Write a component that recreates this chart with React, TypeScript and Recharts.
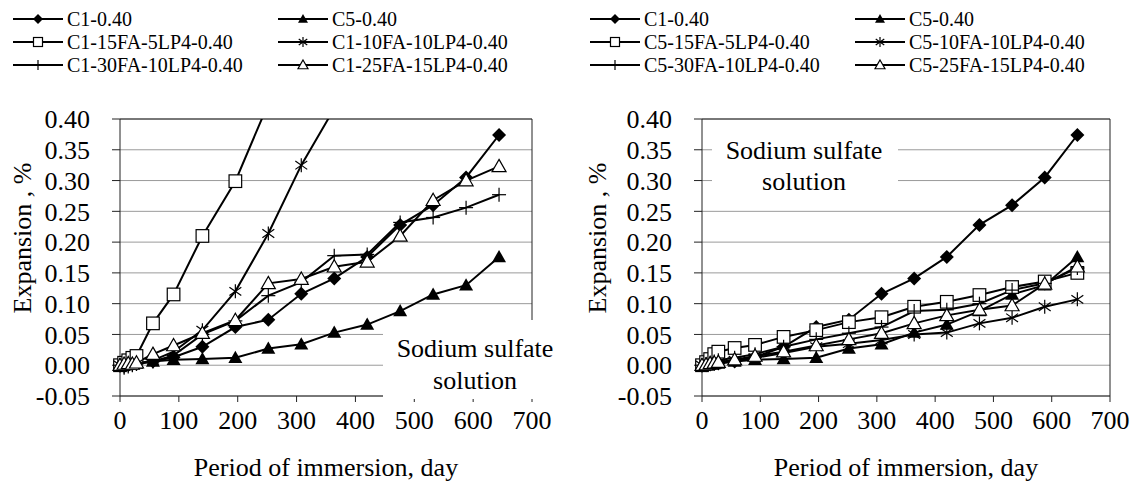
import { useLayoutEffect, useRef } from "react";
import { CartesianGrid, Line, LineChart, ReferenceLine, XAxis, YAxis } from "recharts";

// immersion age, days
const days = [0, 7, 14, 21, 28, 56, 91, 140, 196, 252, 308, 364, 420, 476, 532, 588, 644];
const xTicks = [0, 100, 200, 300, 400, 500, 600, 700];
const yTicks = [-0.05, 0, 0.05, 0.1, 0.15, 0.2, 0.25, 0.3, 0.35, 0.4];

// expansion, % (shared control mixes)
const c1Control = [0, 0, 0.001, 0.002, 0.003, 0.006, 0.013, 0.03, 0.062, 0.074, 0.116, 0.141, 0.176, 0.228, 0.26, 0.305, 0.374];
const c5Control = [0, 0, 0.001, 0.002, 0.003, 0.006, 0.009, 0.01, 0.012, 0.027, 0.034, 0.053, 0.066, 0.088, 0.115, 0.13, 0.176];

// C1 blends (left)
const c1Fa15Lp5 = [0, 0.004, 0.008, 0.012, 0.015, 0.068, 0.115, 0.21, 0.299, 0.425];
const c1Fa10Lp10 = [0, -0.002, 0, 0.001, 0.002, 0.008, 0.022, 0.057, 0.12, 0.214, 0.325, 0.417];
const c1Fa30Lp10 = [0, -0.004, -0.002, 0, 0.002, 0.006, 0.016, 0.05, 0.072, 0.113, 0.135, 0.178, 0.18, 0.232, 0.24, 0.256, 0.277];
const c1Fa25Lp15 = [0, 0.002, 0.003, 0.002, 0.004, 0.018, 0.032, 0.052, 0.073, 0.133, 0.14, 0.16, 0.168, 0.21, 0.268, 0.3, 0.323];

// C5 blends (right)
const c5Fa15Lp5 = [0, 0.005, 0.01, 0.018, 0.022, 0.028, 0.033, 0.046, 0.057, 0.07, 0.078, 0.095, 0.103, 0.114, 0.127, 0.136, 0.15];
const c5Fa10Lp10 = [0, 0.001, 0.002, 0.003, 0.004, 0.008, 0.012, 0.02, 0.03, 0.035, 0.041, 0.05, 0.053, 0.068, 0.077, 0.095, 0.107];
const c5Fa30Lp10 = [0, 0.002, 0.004, 0.006, 0.008, 0.012, 0.018, 0.03, 0.042, 0.052, 0.062, 0.088, 0.09, 0.1, 0.122, 0.133, 0.158];
const c5Fa25Lp15 = [0, 0.001, 0.003, 0.004, 0.005, 0.009, 0.015, 0.022, 0.032, 0.042, 0.052, 0.068, 0.081, 0.09, 0.097, 0.132, 0.16];

const leftNames = ["C1-0.40", "C5-0.40", "C1-15FA-5LP4-0.40", "C1-10FA-10LP4-0.40", "C1-30FA-10LP4-0.40", "C1-25FA-15LP4-0.40"];
const rightNames = ["C1-0.40", "C5-0.40", "C5-15FA-5LP4-0.40", "C5-10FA-10LP4-0.40", "C5-30FA-10LP4-0.40", "C5-25FA-15LP4-0.40"];

type Shape = "diamond" | "triangle" | "square" | "star" | "plus" | "openTriangle";
const shapes: Shape[] = ["diamond", "triangle", "square", "star", "plus", "openTriangle"];

const FONT = "Liberation Serif";

function buildRows(series: number[][]) {
    return days.map((day, i) => {
        const row: Record<string, number | null> = { day };
        series.forEach((vals, j) => {
            row[`s${j}`] = i < vals.length ? vals[i] : null;
        });
        return row;
    });
}

function Marker({ shape, cx, cy, r }: { shape: Shape; cx: number; cy: number; r: number }) {
    const tri = `${cx},${cy - r} ${cx + r},${cy + r * 0.75} ${cx - r},${cy + r * 0.75}`;
    switch (shape) {
        case "diamond":
            return <polygon points={`${cx},${cy - r} ${cx + r},${cy} ${cx},${cy + r} ${cx - r},${cy}`} fill="#000" />;
        case "triangle":
            return <polygon points={tri} fill="#000" />;
        case "openTriangle":
            return <polygon points={tri} fill="#fff" stroke="#000" strokeWidth={1.2} />;
        case "square":
            return <rect x={cx - r * 0.9} y={cy - r * 0.9} width={r * 1.8} height={r * 1.8} fill="#fff" stroke="#000" strokeWidth={1.2} />;
        case "star":
            return (
                <g stroke="#000" strokeWidth={1.2}>
                    <line x1={cx} y1={cy - r} x2={cx} y2={cy + r} />
                    <line x1={cx - r * 0.85} y1={cy - r * 0.6} x2={cx + r * 0.85} y2={cy + r * 0.6} />
                    <line x1={cx - r * 0.85} y1={cy + r * 0.6} x2={cx + r * 0.85} y2={cy - r * 0.6} />
                </g>
            );
        default:
            return (
                <g stroke="#000" strokeWidth={1.2}>
                    <line x1={cx} y1={cy - r} x2={cx} y2={cy + r} />
                    <line x1={cx - r} y1={cy} x2={cx + r} y2={cy} />
                </g>
            );
    }
}

const dotFor = (shape: Shape) => (props: any) => {
    const { cx, cy, index, value } = props;
    if (cx == null || cy == null || value == null) return <g key={`d${index}`} />;
    return <Marker key={`d${index}`} shape={shape} cx={cx} cy={cy} r={7} />;
};

interface PanelProps {
    left: number;
    names: string[];
    series: number[][];
    plotLeft: number;
    plotRight: number;
    legendX: [number, number];
    yTitleX: number;
    note: { x: number; y: number; w: number; h: number; cx: number; line1: number; line2: number };
}

function Panel({ left, names, series, plotLeft, plotRight, legendX, yTitleX, note }: PanelProps) {
    const rows = buildRows(series);
    const legendRows = [19, 42, 65];
    return (
        <div style={{ position: "absolute", left, top: 0, width: 567, height: 488 }}>
            <LineChart width={567} height={488} data={rows} margin={{ top: 119, right: 567 - plotRight, bottom: 62, left: 0 }}>
                <CartesianGrid vertical={false} stroke="#9a9a9a" strokeWidth={1} />
                <XAxis
                    dataKey="day"
                    type="number"
                    domain={[0, 700]}
                    ticks={xTicks}
                    interval={0}
                    height={30}
                    tickSize={6}
                    tickMargin={9}
                    stroke="#222"
                    tick={{ fill: "#000", fontSize: 26, fontFamily: FONT }}
                />
                <YAxis
                    type="number"
                    domain={[-0.05, 0.4]}
                    ticks={yTicks}
                    interval={0}
                    allowDataOverflow
                    width={plotLeft}
                    tickSize={8}
                    tickMargin={22}
                    stroke="#222"
                    tickFormatter={(v: number) => v.toFixed(2)}
                    tick={{ fill: "#000", fontSize: 26, fontFamily: FONT }}
                />
                <ReferenceLine y={0.4} stroke="#222" />
                <ReferenceLine x={700} stroke="#222" />
                {series.map((_, j) => (
                    <Line
                        key={j}
                        type="linear"
                        dataKey={`s${j}`}
                        name={names[j]}
                        stroke="#000"
                        strokeWidth={2}
                        dot={dotFor(shapes[j])}
                        activeDot={false}
                        isAnimationActive={false}
                    />
                ))}
            </LineChart>
            <svg width={567} height={488} style={{ position: "absolute", left: 0, top: 0, pointerEvents: "none" }}>
                {names.map((name, j) => {
                    const x = legendX[j % 2];
                    const y = legendRows[Math.floor(j / 2)];
                    return (
                        <g key={name + j}>
                            <line x1={x} y1={y} x2={x + 50} y2={y} stroke="#000" strokeWidth={2} />
                            <Marker shape={shapes[j]} cx={x + 25} cy={y} r={5} />
                            <text x={x + 54} y={y + 7} fontFamily={FONT} fontSize={20} fill="#000">{name}</text>
                        </g>
                    );
                })}
                <text
                    x={yTitleX}
                    y={238}
                    transform={`rotate(-90 ${yTitleX} 238)`}
                    textAnchor="middle"
                    dy={9}
                    fontFamily={FONT}
                    fontSize={26}
                    fill="#000"
                >
                    Expansion , %
                </text>
                <text x={(plotLeft + plotRight) / 2} y={476} textAnchor="middle" fontFamily={FONT} fontSize={26} fill="#000">
                    Period of immersion, day
                </text>
                <rect x={note.x} y={note.y} width={note.w} height={note.h} fill="#fff" />
                <text x={note.cx} y={note.line1 + 9} textAnchor="middle" fontFamily={FONT} fontSize={26} fill="#000">
                    Sodium sulfate
                </text>
                <text x={note.cx} y={note.line2 + 9} textAnchor="middle" fontFamily={FONT} fontSize={26} fill="#000">
                    solution
                </text>
            </svg>
        </div>
    );
}

export default function App() {
    const ref = useRef<HTMLDivElement>(null);
    useLayoutEffect(() => {
        // force the serif face on every svg text node
        ref.current?.querySelectorAll("text, tspan").forEach((el) => {
            (el as SVGElement).style.setProperty("font-family", "'Liberation Serif', serif", "important");
        });
    });
    return (
        <div ref={ref} style={{ position: "absolute", left: 0, top: 0, width: 1134, height: 488, background: "#fff", fontFamily: FONT }}>
            <Panel
                left={0}
                names={leftNames}
                series={[c1Control, c5Control, c1Fa15Lp5, c1Fa10Lp10, c1Fa30Lp10, c1Fa25Lp15]}
                plotLeft={120}
                plotRight={532}
                legendX={[13, 278]}
                yTitleX={22}
                note={{ x: 383, y: 320, w: 178, h: 79, cx: 475, line1: 348, line2: 380 }}
            />
            <Panel
                left={567}
                names={rightNames}
                series={[c1Control, c5Control, c5Fa15Lp5, c5Fa10Lp10, c5Fa30Lp10, c5Fa25Lp15]}
                plotLeft={135}
                plotRight={543}
                legendX={[23, 288]}
                yTitleX={30}
                note={{ x: 145, y: 128, w: 186, h: 72, cx: 237, line1: 150, line2: 181 }}
            />
        </div>
    );
}
